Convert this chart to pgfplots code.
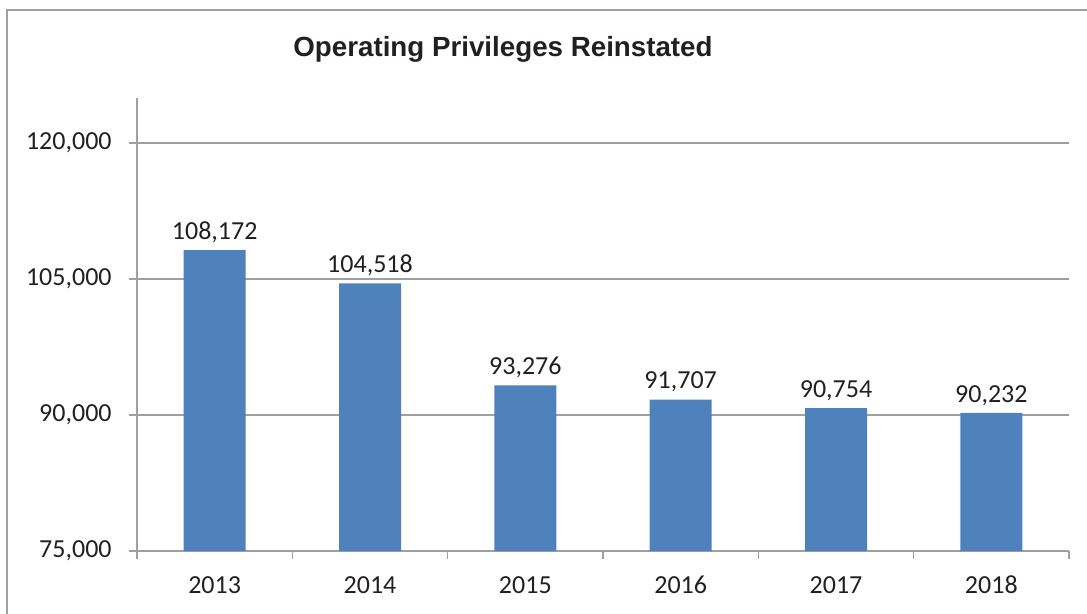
\documentclass[border=0pt]{standalone}
\usepackage{pgfplots}
\pgfplotsset{compat=1.18}
\usepackage{fontspec}
\setmainfont{Carlito}
\newfontfamily\arialfont{Liberation Sans}
\definecolor{barblue}{RGB}{79,129,189}
\definecolor{axgray}{RGB}{160,160,160}
\definecolor{txt}{RGB}{35,31,32}
\begin{document}
\begin{tikzpicture}
\useasboundingbox (0pt,0pt) rectangle (815.25pt,459.75pt);
\draw[axgray,line width=1.1pt] (5.25pt,-5pt) -- (5.25pt,452.25pt) -- (820pt,452.25pt);
\node[font=\arialfont\bfseries\fontsize{20.8}{24}\selectfont, text=txt, anchor=base] at (377.25pt,417.5pt) {Operating Privileges Reinstated};
\begin{axis}[
  at={(102.75pt,46.5pt)}, anchor=south west,
  scale only axis, width=699pt, height=340pt,
  xmin=-0.5, xmax=5.5, ymin=75000, ymax=125000,
  scaled y ticks=false,
  separate axis lines,
  axis x line*=bottom, axis y line*=left,
  x axis line style={-, draw=axgray, line width=1.1pt},
  y axis line style={-, draw=axgray, line width=1.1pt},
  xtick={-0.5,0.5,1.5,2.5,3.5,4.5,5.5},
  x tick label as interval,
  xticklabels={2013,2014,2015,2016,2017,2018},
  ytick={75000,90000,105000,120000},
  yticklabels={{75,000},{90,000},{105,000},{120,000}},
  tick align=outside,
  major tick length=6pt,
  tick style={draw=axgray, line width=1.1pt},
  ymajorgrids,
  grid style={draw=axgray, line width=1.1pt},
  xticklabel style={font=\fontsize{19.5}{22}\selectfont, text=txt, anchor=base, yshift=-25.5pt},
  yticklabel style={font=\fontsize{19.5}{22}\selectfont, text=txt, anchor=east, xshift=-9.5pt},
  ybar, bar width=46.5pt,
  nodes near coords,
  point meta=explicit symbolic,
  every node near coord/.append style={font=\fontsize{19.5}{22}\selectfont, text=txt, anchor=base, yshift=8pt},
]
\addplot[fill=barblue, draw=none] table[x=x, y=y, meta=lab] {
x y lab
0 108172 108,172
1 104518 104,518
2 93276 93,276
3 91707 91,707
4 90754 90,754
5 90232 90,232
};
\end{axis}
\end{tikzpicture}
\end{document}
